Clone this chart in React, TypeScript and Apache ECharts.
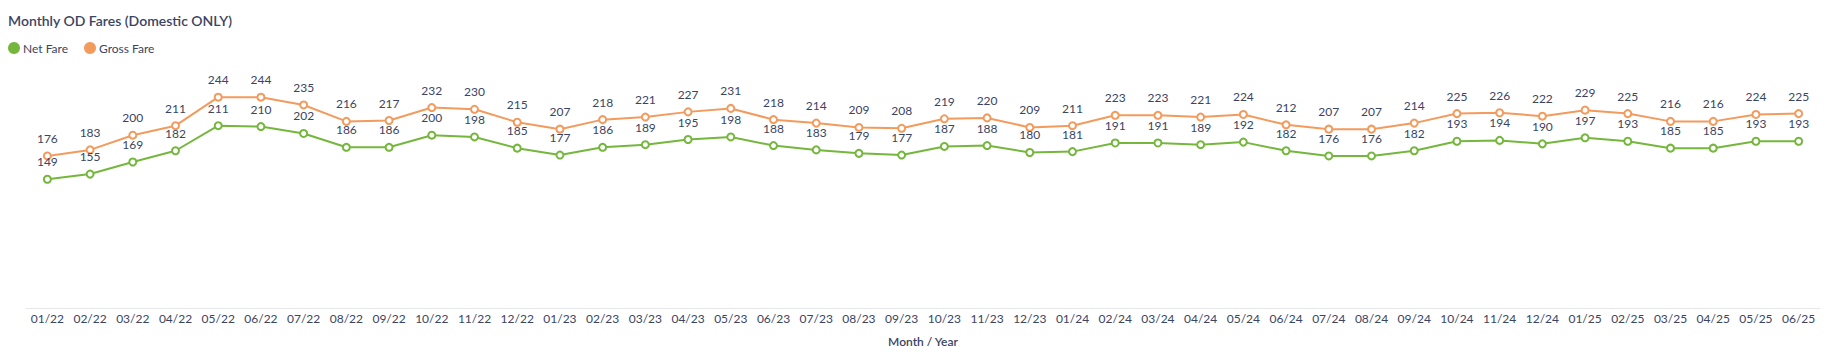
import React, { useEffect, useRef } from "react";
import * as echarts from "echarts";

const months = [
  "01/22","02/22","03/22","04/22","05/22","06/22","07/22","08/22","09/22","10/22","11/22","12/22",
  "01/23","02/23","03/23","04/23","05/23","06/23","07/23","08/23","09/23","10/23","11/23","12/23",
  "01/24","02/24","03/24","04/24","05/24","06/24","07/24","08/24","09/24","10/24","11/24","12/24",
  "01/25","02/25","03/25","04/25","05/25","06/25",
];

const netFare = [
  149,155,169,182,211,210,202,186,186,200,198,185,
  177,186,189,195,198,188,183,179,177,187,188,180,
  181,191,191,189,192,182,176,176,182,193,194,190,
  197,193,185,185,193,193,
];

const grossFare = [
  176,183,200,211,244,244,235,216,217,232,230,215,
  207,218,221,227,231,218,214,209,208,219,220,209,
  211,223,223,221,224,212,207,207,214,225,226,222,
  229,225,216,216,224,225,
];

const TEXT = "#3b4462";
const FONT = "Lato, 'Noto Sans', sans-serif";

export default function App() {
  const ref = useRef<HTMLDivElement>(null);
  useEffect(() => {
    if (!ref.current) return;
    const chart = echarts.init(ref.current, undefined, { renderer: "svg" });
    const label = {
      show: true,
      position: "top" as const,
      distance: 7,
      color: TEXT,
      fontSize: 12,
      fontFamily: FONT,
    };
    chart.setOption({
      animation: false,
      textStyle: { fontFamily: FONT },
      title: {
        text: "Monthly OD Fares (Domestic ONLY)",
        left: 0,
        top: 5,
        padding: 0,
        textStyle: { fontSize: 14, fontWeight: 600, color: TEXT, fontFamily: FONT },
      },
      legend: {
        left: 0,
        top: 34,
        padding: 0,
        icon: "circle",
        itemWidth: 12,
        itemHeight: 12,
        itemGap: 16,
        textStyle: { fontSize: 12, color: TEXT, fontFamily: FONT, padding: [0, 0, 0, -2] },
        data: ["Net Fare", "Gross Fare"],
      },
      grid: { left: 18, right: 8, top: 84, bottom: 42.7, containLabel: false },
      xAxis: {
        type: "category",
        data: months,
        boundaryGap: true,
        name: "Month / Year",
        nameLocation: "middle",
        nameGap: 27,
        nameTextStyle: { fontSize: 12, fontWeight: 600, color: TEXT, fontFamily: FONT },
        axisLine: { show: true, lineStyle: { color: "#e6e7ea", width: 1 } },
        axisTick: { show: false },
        axisLabel: { color: TEXT, fontSize: 12, fontFamily: FONT, margin: 4, interval: 0 },
      },
      yAxis: {
        type: "value",
        min: 0,
        max: 250,
        show: false,
        splitLine: { show: false },
      },
      series: [
        {
          name: "Net Fare",
          type: "line",
          data: netFare,
          symbol: "emptyCircle",
          symbolSize: 7,
          lineStyle: { width: 2, color: "#74b73c" },
          itemStyle: { color: "#74b73c", borderWidth: 2 },
          label,
        },
        {
          name: "Gross Fare",
          type: "line",
          data: grossFare,
          symbol: "emptyCircle",
          symbolSize: 7,
          lineStyle: { width: 2, color: "#f39a5d" },
          itemStyle: { color: "#f39a5d", borderWidth: 2 },
          label,
        },
      ],
    });
    return () => chart.dispose();
  }, []);
  return <div ref={ref} style={{ width: 1820, height: 344 }} />;
}
